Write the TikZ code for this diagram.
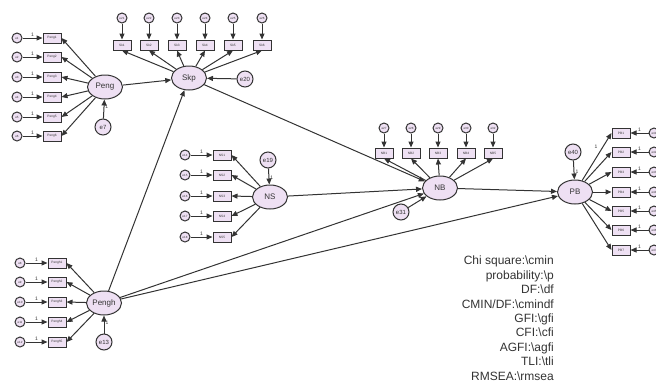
\documentclass[tikz,border=0pt]{standalone}
\usepackage{fontspec}
\setmainfont{Liberation Sans}
\usetikzlibrary{arrows.meta,shapes.geometric}
\definecolor{lav}{HTML}{EEE0F3}
\definecolor{linec}{HTML}{333333}
\definecolor{txt}{HTML}{333333}
\begin{document}
\begin{tikzpicture}[x=1pt,y=-1pt,
  lat/.style={ellipse,draw=linec,line width=1pt,fill=lav,minimum width=35pt,minimum height=24pt,inner sep=0pt,font=\fontsize{8}{8}\selectfont,text=txt},
  obs/.style={rectangle,draw=linec,line width=1pt,fill=lav,minimum width=18pt,minimum height=10pt,inner sep=0pt,font=\fontsize{3.2}{3.5}\selectfont,text=txt},
  err/.style={circle,draw=linec,line width=1pt,fill=lav,minimum size=10pt,inner sep=0pt,font=\fontsize{3}{3}\selectfont,text=txt},
  lerr/.style={circle,draw=linec,line width=1pt,fill=lav,minimum size=16pt,inner sep=0pt,font=\fontsize{6}{6}\selectfont,text=txt},
  arr/.style={draw=linec,line width=1pt,-{Triangle[length=6pt,width=5pt]}},
  one/.style={font=\fontsize{5}{5}\selectfont,text=txt,inner sep=1pt}]
\useasboundingbox (0,0) rectangle (656,389);

% ---------- Peng ----------
\node[lat] (peng) at (105,87) {Peng};
\node[lerr] (e7) at (103,127) {e7};
\draw[arr] (e7) -- node[one,right,pos=0.6]{1} (peng);
\foreach \i/\y in {1/38,2/57,3/77,4/97,5/117,6/136}{
  \node[obs] (pg\i) at (52,\y) {Peng\i};
  \node[err] (pge\i) at (17,\y) {e\i};
  \draw[arr] (pge\i) -- node[one,above]{1} (pg\i);
  \draw[arr] (peng) -- (pg\i.east);
}

% ---------- Pengh ----------
\node[lat] (pengh) at (104,303) {Pengh};
\node[lerr] (e13) at (104,342) {e13};
\draw[arr] (e13) -- node[one,right,pos=0.6]{1} (pengh);
\foreach \i/\y/\n in {1/263/8,2/282/9,3/302/10,4/322/11,5/342/12}{
  \node[obs] (ph\i) at (57,\y) {Pengh\i};
  \node[err] (phe\i) at (20,\y) {e\n};
  \draw[arr] (phe\i) -- node[one,above]{1} (ph\i);
  \draw[arr] (pengh) -- (ph\i.east);
}

% ---------- Skp ----------
\node[lat] (skp) at (189,78) {Skp};
\node[lerr] (e20) at (245,79) {e20};
\draw[arr] (e20) -- (skp);
\foreach \i/\x/\n in {1/122/21,2/149/22,3/177/23,4/205/24,5/233/25,6/262/26}{
  \node[obs] (sk\i) at (\x,45) {Sk\i};
  \node[err] (ske\i) at (\x,18) {e\n};
  \draw[arr] (ske\i) -- (sk\i);
  \draw[arr] (skp) -- (sk\i.south);
}

% ---------- NS ----------
\node[lat] (ns) at (270,197) {NS};
\node[lerr] (e19) at (268,160) {e19};
\draw[arr] (e19) -- node[one,right,pos=0.6]{1} (ns);
\foreach \i/\y/\n in {1/155/14,2/175/15,3/196/16,4/216/17,5/237/18}{
  \node[obs] (nsi\i) at (222,\y) {NS\i};
  \node[err] (nse\i) at (185,\y) {e\n};
  \draw[arr] (nse\i) -- node[one,above]{1} (nsi\i);
  \draw[arr] (ns) -- (nsi\i.east);
}

% ---------- NB ----------
\node[lat] (nb) at (440,188) {NB};
\node[lerr] (e31) at (401,212) {e31};
\draw[arr] (e31) -- (nb);
\foreach \i/\x/\n in {1/384/27,2/411/28,3/438/29,4/466/30,5/493/32}{
  \node[obs] (nbi\i) at (\x,153) {NB\i};
  \node[err] (nbe\i) at (\x,128) {e\n};
  \draw[arr] (nbe\i) -- (nbi\i);
  \draw[arr] (nb) -- (nbi\i.south);
}

% ---------- PB ----------
\node[lat] (pb) at (575,192) {PB};
\node[lerr] (e40) at (573,152) {e40};
\draw[arr] (e40) -- node[one,right,pos=0.6]{1} (pb);
\foreach \i/\y/\n in {1/133/41,2/152/42,3/172/43,4/192/44,5/211/45,6/230/46,7/250/47}{
  \node[obs] (pbi\i) at (621,\y) {PB\i};
  \node[err] (pbe\i) at (654,\y) {e\n};
  \draw[arr] (pbe\i) -- node[one,above]{1} (pbi\i);
  \draw[arr] (pb) -- (pbi\i.west);
}
\node[one] at (596,147) {1};

% ---------- structural paths ----------
\draw[arr] (peng) -- (skp);
\draw[arr] (pengh) -- (skp);
\draw[arr] (skp) -- (nb);
\draw[arr] (ns) -- (nb);
\draw[arr] (pengh) -- (nb);
\draw[arr] (pengh) -- (pb);
\draw[arr] (nb) -- (pb);

% ---------- fit indices ----------
\node[anchor=north east,align=right,inner sep=0pt,text=txt,
      font=\fontsize{12}{14.4}\selectfont] (fit) at (554,256)
  {Chi square:\textbackslash cmin\\
   probability:\textbackslash p\\
   DF:\textbackslash df\\
   CMIN/DF:\textbackslash cmindf\\
   GFI:\textbackslash gfi\\
   CFI:\textbackslash cfi\\
   AGFI:\textbackslash agfi\\
   TLI:\textbackslash tli\\
   RMSEA:\textbackslash rmsea};
\end{tikzpicture}
\end{document}
